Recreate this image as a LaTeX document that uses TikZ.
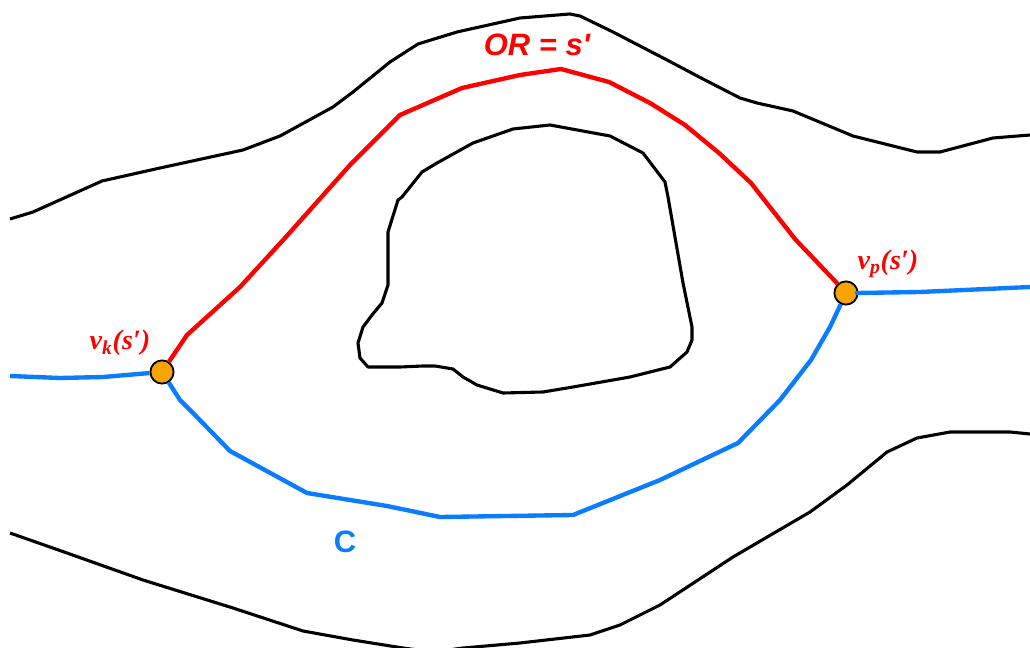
\documentclass[tikz,border=0pt]{standalone}
\usepackage{fontspec}
\setmainfont{Liberation Serif}
\newfontfamily\labelsans{Liberation Sans}
\usetikzlibrary{positioning}
\definecolor{orred}{HTML}{FF0000}
\definecolor{cblue}{HTML}{0A7CFF}
\definecolor{vorange}{HTML}{F7A300}

\begin{document}
\begin{tikzpicture}[
    x=0.025cm,
    y=-0.025cm,
    contour/.style={line width=2.2pt, black, line join=round},
    orpath/.style={line width=3.1pt, orred, line join=round},
    cpath/.style={line width=3.1pt, cblue, line join=round},
    vertex/.style={circle, draw=black, line width=1.3pt, fill=vorange, minimum size=0.58cm, inner sep=0pt},
    vlabel/.style={text=orred, font=\fontsize{20}{24}\selectfont\bfseries\itshape}
  ]
    \useasboundingbox (0,0) rectangle (1030,648);
    \fill[white] (0,0) rectangle (1030,648);
    \clip (0,0) rectangle (1030,648);

    % contours
    \draw[contour] (10,219) -- (33,212) -- (102,181) -- (160,168) -- (243,150) -- (280,136) -- (333,107) -- (353,92) -- (390,62) -- (418,44) -- (457,32) -- (520,18) -- (570,14) -- (580,16) -- (613,32) -- (667,60) -- (703,79) -- (740,98) -- (757,103) -- (793,111) -- (853,136) -- (917,152) -- (940,152) -- (993,138) -- (1030,135);
    \draw[contour] (550,125) -- (610,136) -- (643,153) -- (665,182) -- (668,197) -- (683,283) -- (692,327) -- (692,340) -- (687,352) -- (670,367) -- (630,377) -- (573,387) -- (543,392) -- (503,393) -- (477,385) -- (463,377) -- (453,369) -- (435,366) -- (423,366) -- (400,367) -- (368,367) -- (360,358) -- (358,343) -- (363,327) -- (372,315) -- (382,303) -- (388,285) -- (388,232) -- (398,200) -- (402,197) -- (422,172) -- (437,163) -- (473,143) -- (513,129) -- cycle;
    \draw[contour] (10,533) -- (67,553) -- (143,580) -- (233,608) -- (303,631) -- (353,640) -- (403,648) -- (433,652) -- (463,648) -- (520,643) -- (590,635) -- (620,625) -- (660,605) -- (733,557) -- (810,512) -- (847,485) -- (887,452) -- (917,438) -- (950,432) -- (1010,432) -- (1030,434);

    \node[vertex] (vk) at (162,372) {};
    \node[vertex] (vp) at (846,293) {};
    \coordinate (cwest) at (10,376);
    \coordinate (ceast) at (1030,287);

    \draw[orpath] (vk) -- (187,335) -- (240,287) -- (285,238) -- (350,165) -- (400,115) -- (462,88) -- (520,75) -- (561,69) -- (609,82) -- (650,103) -- (685,125) -- (719,153) -- (751,183) -- (795,239) -- (834,280) -- (vp);
    \draw[cpath] (vk) -- (180,400) -- (193,413) -- (230,451) -- (307,493) -- (387,506) -- (440,517) -- (573,515) -- (660,480) -- (738,443) -- (780,400) -- (811,360) -- (830,327) -- (vp);
    \draw[cpath] (cwest) -- (60,378) -- (103,377) -- (vk);
    \draw[cpath] (vp) -- (857,293) -- (920,292) -- (ceast);

    \node[vlabel] (vklabel) at (120,343) {v\textsubscript{k}(s′)};
    \node[vlabel] (vplabel) at (888,264) {v\textsubscript{p}(s′)};
    \node[text=orred, font=\labelsans\fontsize{22}{26}\selectfont\bfseries\itshape] (orlabel) at (537,45) {OR = s'};
    \node[text=cblue, font=\labelsans\fontsize{22}{26}\selectfont\bfseries] (clabel) at (345,542) {C};
  \end{tikzpicture}
\end{document}
